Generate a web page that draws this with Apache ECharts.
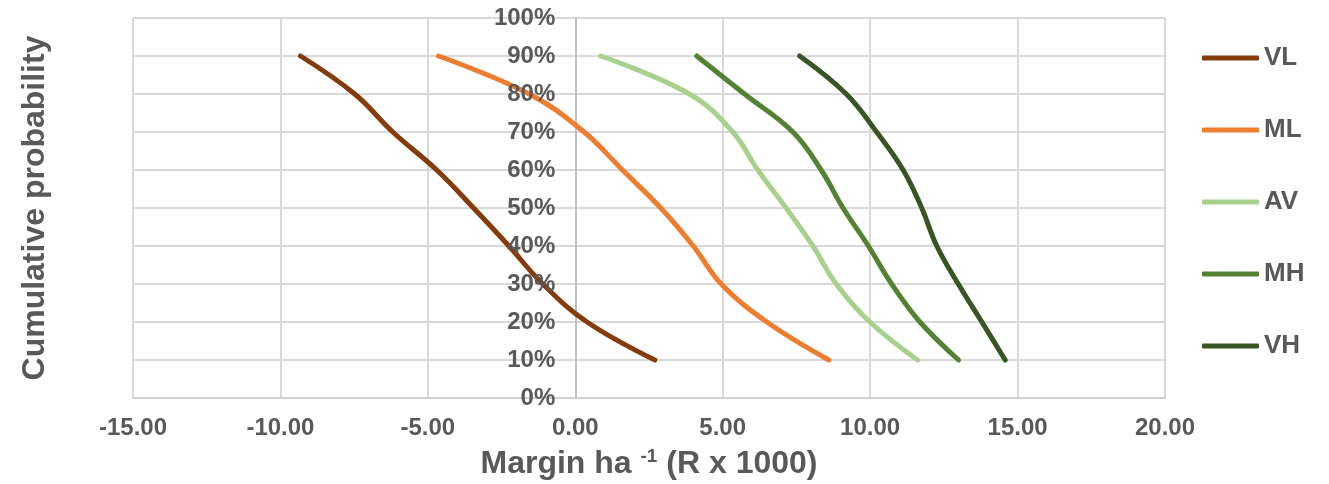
<!DOCTYPE html>
<html>
<head>
<meta charset="utf-8">
<script src="https://cdn.jsdelivr.net/npm/echarts@6/dist/echarts.min.js"></script>
<style>
  html, body { margin: 0; padding: 0; background: #ffffff; }
  #chart { width: 1329px; height: 484px; }
</style>
</head>
<body>
<div id="chart"></div>
<script>
// Cumulative probability levels (%) shared by every scenario
const probabilities = [90, 80, 70, 60, 50, 40, 30, 20, 10];

// Margin per hectare (R x 1000) at each probability level
const marginVL = [-9.32, -7.48, -6.19, -4.70, -3.45, -2.25, -1.10, 0.40, 2.70];
const marginML = [-4.64, -1.56, 0.30, 1.60, 2.90, 4.00, 4.95, 6.50, 8.60];
const marginAV = [0.86, 3.87, 5.34, 6.19, 7.15, 8.06, 8.85, 9.99, 11.61];
const marginMH = [4.12, 5.74, 7.38, 8.34, 9.08, 9.94, 10.73, 11.69, 13.00];
const marginVH = [7.61, 9.19, 10.22, 11.12, 11.75, 12.26, 12.99, 13.79, 14.58];

const seriesNames = ['VL', 'ML', 'AV', 'MH', 'VH'];
const seriesMargins = [marginVL, marginML, marginAV, marginMH, marginVH];
const seriesColors = ['#843C0C', '#ED7D31', '#A9D18E', '#548235', '#375623'];

const xMin = -15, xMax = 20, xStep = 5;
const yMin = 0, yMax = 100, yStep = 10;

const FONT = "'Liberation Sans', Arial, Helvetica, sans-serif";
const TEXT = '#595959';
const GRID = '#D9D9D9';

// plot area
const GRID_LEFT = 133, GRID_RIGHT = 164, GRID_TOP = 18, GRID_BOTTOM = 86;
const CHART_W = 1329;
const plotWidth = CHART_W - GRID_LEFT - GRID_RIGHT;
// the probability axis crosses the margin axis at zero
const zeroShift = (0 - xMin) / (xMax - xMin) * plotWidth;

// vertical gridlines: the one at zero is a touch darker (it doubles as the value axis)
const xLineColors = [];
for (let v = xMin; v <= xMax; v += xStep) xLineColors.push(v === 0 ? '#BFBFBF' : GRID);

const chart = echarts.init(document.getElementById('chart'), null, { renderer: 'canvas' });

const series = seriesNames.map((name, i) => ({
  name: name,
  type: 'line',
  smooth: 0.4,
  symbol: 'none',
  color: seriesColors[i],
  lineStyle: { width: 5, color: seriesColors[i], cap: 'round', join: 'round' },
  emphasis: { disabled: true },
  data: seriesMargins[i].map((m, k) => [m, probabilities[k]])
}));

chart.setOption({
  animation: false,
  backgroundColor: '#ffffff',
  textStyle: { fontFamily: FONT },
  grid: {
    left: GRID_LEFT, right: GRID_RIGHT, top: GRID_TOP, bottom: GRID_BOTTOM,
    containLabel: false, outerBoundsMode: 'none'
  },
  xAxis: {
    type: 'value',
    min: xMin, max: xMax, interval: xStep,
    axisLine: { show: true, onZero: false, lineStyle: { color: '#D0D0D0', width: 2 } },
    axisTick: { show: false },
    splitLine: { show: true, lineStyle: { color: xLineColors, width: 2 } },
    axisLabel: {
      margin: 18, color: TEXT, fontSize: 24, fontWeight: 'bold', fontFamily: FONT,
      formatter: v => v.toFixed(2)
    },
    name: 'Margin ha {sup|-1} (R x 1000)',
    nameLocation: 'middle',
    nameGap: 49,
    nameTextStyle: {
      color: TEXT, fontSize: 32, fontWeight: 'bold', fontFamily: FONT,
      rich: {
        sup: { color: TEXT, fontSize: 19, fontWeight: 'bold', fontFamily: FONT, padding: [0, 0, 16, 0] }
      }
    }
  },
  yAxis: [
    {
      // labels sit on the zero line of the margin axis, above the curves
      type: 'value',
      position: 'left',
      offset: -zeroShift,
      min: yMin, max: yMax, interval: yStep,
      z: 5,
      axisLine: { show: false, onZero: false },
      axisTick: { show: false },
      splitLine: { show: false },
      axisLabel: {
        margin: 20, color: TEXT, fontSize: 24, fontWeight: 'bold', fontFamily: FONT,
        formatter: v => v + '%'
      }
    },
    {
      // horizontal gridlines, drawn beneath the curves
      type: 'value',
      min: yMin, max: yMax, interval: yStep,
      z: 0,
      axisLine: { show: false, onZero: false },
      axisTick: { show: false },
      axisLabel: { show: false },
      splitLine: { show: true, lineStyle: { color: GRID, width: 2 } }
    }
  ],
  legend: {
    orient: 'vertical',
    left: 1202,
    top: 44,
    padding: 0,
    icon: 'roundRect',
    itemWidth: 57,
    itemHeight: 5,
    itemGap: 44,
    selectedMode: false,
    textStyle: { color: TEXT, fontSize: 26, fontWeight: 'bold', fontFamily: FONT, lineHeight: 28 },
    data: seriesNames
  },
  graphic: [
    {
      type: 'text',
      x: 35, y: 208,
      rotation: Math.PI / 2,
      style: {
        text: 'Cumulative probability',
        fill: TEXT,
        font: 'bold 32px ' + FONT,
        align: 'center',
        verticalAlign: 'middle'
      }
    }
  ],
  series: series
});
</script>
</body>
</html>
